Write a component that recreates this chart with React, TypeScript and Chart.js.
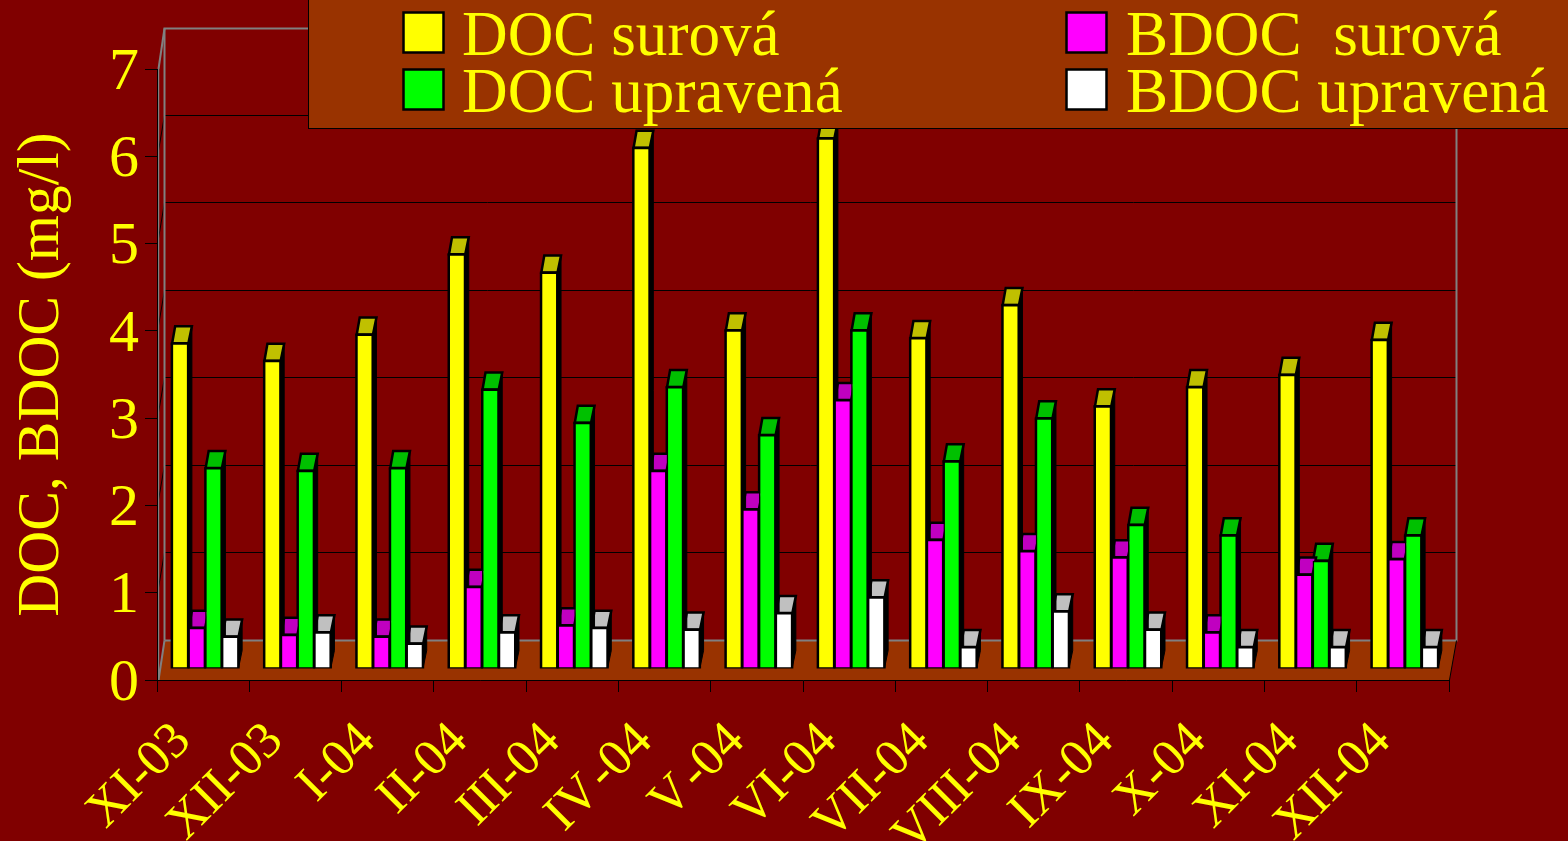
import React, { useEffect, useRef } from "react";
import { Chart, registerables } from "chart.js";

Chart.register(...registerables);

const categories = ["XI-03", "XII-03", "I-04", "II-04", "III-04", "IV\u200A-04", "V\u200A-04", "VI-04", "VII-04", "VIII-04", "IX-04", "X-04", "XI-04", "XII-04"];
const docRaw = [3.72, 3.52, 3.82, 4.74, 4.53, 5.96, 3.87, 6.07, 3.78, 4.16, 3.0, 3.22, 3.36, 3.76];
const bdocRaw = [0.46, 0.38, 0.36, 0.93, 0.49, 2.26, 1.82, 3.07, 1.47, 1.34, 1.27, 0.41, 1.07, 1.25];
const docTreated = [2.29, 2.26, 2.29, 3.19, 2.81, 3.22, 2.67, 3.87, 2.37, 2.86, 1.64, 1.52, 1.23, 1.52];
const bdocTreated = [0.36, 0.41, 0.28, 0.41, 0.46, 0.44, 0.63, 0.81, 0.24, 0.65, 0.44, 0.24, 0.24, 0.24];
const yTicks = [0, 1, 2, 3, 4, 5, 6, 7];

const FONT = '"Liberation Serif"';
const BG = "#800000";
const BROWN = "#993300";
const YELLOW = "#FFFF00";
const GRAY = "#808080";
const TOP_COLORS = ["#C0C000", "#C000C0", "#00C000", "#C0C0C0"];

const line = (ctx: CanvasRenderingContext2D, pts: number[][], color: string, w: number) => {
  ctx.beginPath();
  pts.forEach((p, i) => (i ? ctx.lineTo(p[0], p[1]) : ctx.moveTo(p[0], p[1])));
  ctx.strokeStyle = color;
  ctx.lineWidth = w;
  ctx.stroke();
};

const poly = (ctx: CanvasRenderingContext2D, pts: number[][], fill: string, stroke?: string, w = 1) => {
  ctx.beginPath();
  pts.forEach((p, i) => (i ? ctx.lineTo(p[0], p[1]) : ctx.moveTo(p[0], p[1])));
  ctx.closePath();
  ctx.fillStyle = fill;
  ctx.fill();
  if (stroke) {
    ctx.strokeStyle = stroke;
    ctx.lineWidth = w;
    ctx.lineJoin = "miter";
    ctx.stroke();
  }
};

const WALL_DX = 7;
const WALL_BOTTOM = 640.5;
const WALL_TOP = 28.5;
const BAR_SHIFT_X = 2;
const BAR_SHIFT_Y = 12;
const DEPTH_X = 3.5;
const DEPTH_Y = 17;

const scene3d = {
  id: "scene3d",
  beforeDraw(chart: any) {
    const { ctx, chartArea: a, scales } = chart;
    const y = scales.y;
    ctx.save();
    ctx.fillStyle = BG;
    ctx.fillRect(0, 0, chart.width, chart.height);
    const by = WALL_BOTTOM;
    const l = a.left + 0.5;
    const r = a.right + 0.5;
    poly(ctx, [[l, a.bottom], [l + WALL_DX, by], [r + WALL_DX, by], [r, a.bottom]], BROWN);
    yTicks.slice(1, -1).forEach((v) => {
      const p = Math.round(y.getPixelForValue(v)) + 0.5;
      const w = Math.round(639.5 - v * 87.5) + 0.5;
      line(ctx, [[l, p], [l + WALL_DX, w], [r + WALL_DX, w]], "#000", 1);
    });
    line(ctx, [[l + 1, a.bottom], [l + 1, a.top]], GRAY, 1.5);
    line(ctx, [[l + 1, a.top], [l + WALL_DX, WALL_TOP]], GRAY, 2);
    line(ctx, [[l + 1, a.bottom], [l + WALL_DX, by]], GRAY, 2);
    line(ctx, [[l + WALL_DX, by], [l + WALL_DX, WALL_TOP], [r + WALL_DX, WALL_TOP], [r + WALL_DX, by], [l + WALL_DX, by]], GRAY, 2);
    line(ctx, [[r, a.bottom], [r + WALL_DX, by]], "#000", 1);
    ctx.restore();
  },
  beforeDatasetsDraw(chart: any) {
    const { ctx } = chart;
    ctx.save();
    ctx.translate(BAR_SHIFT_X, -BAR_SHIFT_Y);
    const n = chart.data.datasets.length;
    for (let g = 0; g < chart.data.labels.length; g++) {
      for (let d = n - 1; d >= 0; d--) {
        const bar = chart.getDatasetMeta(d).data[g];
        const x0 = bar.x - bar.width / 2;
        const x1 = bar.x + bar.width / 2;
        poly(ctx, [[x1, bar.y], [x1 + DEPTH_X, bar.y - DEPTH_Y], [x1 + DEPTH_X, bar.base - DEPTH_Y], [x1, bar.base]], "#000", "#000", 1);
        poly(ctx, [[x0 + 0.5, bar.y], [x0 + DEPTH_X, bar.y - DEPTH_Y], [x1 + DEPTH_X, bar.y - DEPTH_Y], [x1, bar.y]], TOP_COLORS[d], "#000", 2.5);
        ctx.fillStyle = "#000";
        ctx.fillRect(x0 - 1, bar.y - 1, x1 - x0 + 2, bar.base - bar.y + 2);
      }
    }
  },
  afterDatasetsDraw(chart: any) {
    const { ctx } = chart;
    ctx.restore();
    ctx.save();
    ctx.fillStyle = BROWN;
    ctx.fillRect(308.5, -2, chart.width, 130.5);
    ctx.strokeStyle = "#000";
    ctx.lineWidth = 1;
    ctx.strokeRect(308.5, -2, chart.width, 130.5);
    const slots = [
      [403, 12, 462, 55],
      [1066, 12, 1126, 55],
      [403, 69, 462, 112],
      [1066, 69, 1126, 112],
    ];
    chart.data.datasets.forEach((ds: any, i: number) => {
      const [sx, sy, tx, ty] = slots[i];
      ctx.fillStyle = ds.backgroundColor;
      ctx.fillRect(sx + 0.5, sy + 0.5, 40, 40);
      ctx.strokeStyle = "#000";
      ctx.lineWidth = 2.5;
      ctx.strokeRect(sx + 0.5, sy + 0.5, 40, 40);
      ctx.fillStyle = YELLOW;
      ctx.font = `63.2px ${FONT}`;
      ctx.textAlign = "left";
      ctx.textBaseline = "alphabetic";
      ctx.fillText(ds.label, tx, ty);
    });
    ctx.restore();
  },
};

export default function App() {
  const ref = useRef<HTMLCanvasElement>(null);
  useEffect(() => {
    document.body.style.margin = "0";
    document.body.style.background = BG;
    const mk = (label: string, data: number[], color: string) => ({
      label,
      data,
      backgroundColor: color,
      borderColor: "#000",
      borderWidth: 1.5,
      barPercentage: 1,
      categoryPercentage: 0.726,
      clip: false as any,
    });
    const chart = new Chart(ref.current!, {
      type: "bar",
      data: {
        labels: categories,
        datasets: [
          mk("DOC surová", docRaw, "#FFFF00"),
          mk("BDOC  surová", bdocRaw, "#FF00FF"),
          mk("DOC upravená", docTreated, "#00FF00"),
          mk("BDOC upravená", bdocTreated, "#FFFFFF"),
        ],
      },
      options: {
        responsive: false,
        animation: false,
        layout: { padding: { top: 69, right: 119, left: 0, bottom: 0 } },
        plugins: { legend: { display: false }, tooltip: { enabled: false } },
        scales: {
          x: {
            grid: { drawOnChartArea: false, color: "#000", tickLength: 12 },
            border: { color: "#000" },
            afterFit: (s: any) => { s.height = 161; },
            ticks: {
              color: YELLOW,
              autoSkip: false,
              minRotation: 45,
              maxRotation: 45,
              font: { family: FONT, size: 51.5 },
              padding: 19,
              labelOffset: -20,
            },
          },
          y: {
            min: 0,
            max: 7,
            afterFit: (s: any) => { s.width = 157; },
            grid: { drawOnChartArea: false, color: "#000", tickLength: 12 },
            border: { color: "#000" },
            ticks: {
              color: YELLOW,
              stepSize: 1,
              padding: 6,
              labelOffset: 4,
              font: { family: FONT, size: 60 },
            },
            title: {
              display: true,
              text: "DOC, BDOC (mg/l)",
              color: YELLOW,
              font: { family: FONT, size: 59.5 },
              padding: { top: 7, bottom: 0 },
            },
          },
        },
      },
      plugins: [scene3d as any],
    });
    return () => chart.destroy();
  }, []);
  return (
    <div style={{ position: "fixed", left: 0, top: 0, width: 1568, height: 841 }}>
      <canvas ref={ref} width={1568} height={841} style={{ display: "block" }} />
    </div>
  );
}
